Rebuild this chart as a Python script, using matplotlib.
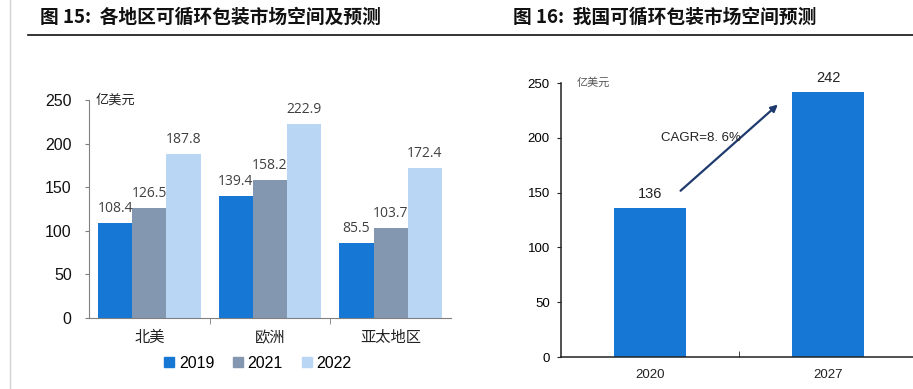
import matplotlib
matplotlib.use("Agg")
import matplotlib.pyplot as plt
from matplotlib.lines import Line2D
from matplotlib.patches import Patch
import numpy as np

plt.rcParams['font.family'] = ['Noto Sans CJK SC', 'DejaVu Sans']

# ---- data ----
regions = ["北美", "欧洲", "亚太地区"]
years_left = ["2019", "2021", "2022"]
v2019 = [108.4, 139.4, 85.5]
v2021 = [126.5, 158.2, 103.7]
v2022 = [187.8, 222.9, 172.4]
left_yticks = [0, 50, 100, 150, 200, 250]

years_right = ["2020", "2027"]
china_values = [136, 242]
right_yticks = [0, 50, 100, 150, 200, 250]
cagr_text = "CAGR=8. 6%"
unit = "亿美元"
title_left = "图 15:  各地区可循环包装市场空间及预测"
title_right = "图 16:  我国可循环包装市场空间预测"

colors_left = ["#1777d5", "#8497b0", "#b9d6f5"]
color_right = "#1777d5"

W, H = 913, 389
fig = plt.figure(figsize=(W / 100, H / 100), dpi=100)

def fx(px):
    return px / W

def fy(py):
    return 1 - py / H

# ---- titles & decorations ----
fig.text(fx(40), fy(17), title_left, fontsize=13.5, fontweight='bold', va='center', ha='left', color='#111111')
fig.text(fx(513), fy(17), title_right, fontsize=13.5, fontweight='bold', va='center', ha='left', color='#111111')
fig.add_artist(Line2D([fx(28), 1.0], [fy(35), fy(35)], color='#111111', lw=1.2, transform=fig.transFigure))
fig.add_artist(Line2D([fx(9.5), fx(9.5)], [0, 1], color='#d4d4d4', lw=1.0, transform=fig.transFigure))

# ---- left chart ----
axL = fig.add_axes([fx(89), fy(318), fx(451) - fx(89), fy(100) - fy(318)])
x = np.arange(len(regions))
bw = 0.283
series = [v2019, v2021, v2022]
for i, (vals, c, lab) in enumerate(zip(series, colors_left, years_left)):
    pos = x + (i - 1) * bw
    axL.bar(pos, vals, width=bw, color=c, label=lab, zorder=2)
    for p, v in zip(pos, vals):
        axL.text(p, v + 8, f"{v:.1f}", ha='center', va='bottom', fontsize=10,
                 color='#404040', family=['Open Sans', 'DejaVu Sans'])
axL.set_xlim(-0.5, len(regions) - 0.5)
axL.set_ylim(0, 250)
axL.set_yticks(left_yticks)
axL.set_yticklabels([str(t) for t in left_yticks], family=['Liberation Sans', 'DejaVu Sans'], fontsize=11.5)
axL.set_xticks(x)
axL.set_xticklabels(regions, fontsize=11, color='#222222')
axL.tick_params(axis='x', which='major', length=0, pad=8)
axL.set_xticks([0.5, 1.5], minor=True)
axL.tick_params(axis='x', which='minor', length=4, direction='out', color='#808080')
axL.tick_params(axis='y', length=3, color='#808080', pad=9.5, labelcolor='#111111')
for s in ['top', 'right']:
    axL.spines[s].set_visible(False)
for s in ['left', 'bottom']:
    axL.spines[s].set_color('#808080')
axL.text(0.018, 250, unit, transform=axL.get_yaxis_transform(), fontsize=9.5, va='center', ha='left', color='#222222')
fig.legend(handles=[Patch(color=c, label=l) for c, l in zip(colors_left, years_left)],
           loc='center', bbox_to_anchor=(fx(258), fy(363)), ncol=3, frameon=False,
           prop={'family': ['Liberation Sans', 'DejaVu Sans'], 'size': 11.5},
           handlelength=0.6, handleheight=0.6, handletextpad=0.3, columnspacing=1.2)

# ---- right chart ----
axR = fig.add_axes([fx(561), fy(357), fx(917) - fx(561), fy(83) - fy(357)])
xr = np.arange(len(years_right))
axR.bar(xr, china_values, width=0.4, color=color_right, zorder=2)
for p, v in zip(xr, china_values):
    axR.text(p, v + 6, f"{v}", ha='center', va='bottom', fontsize=10.5,
             color='#222222', family=['Liberation Sans', 'DejaVu Sans'])
axR.set_xlim(-0.5, 1.5)
axR.set_ylim(0, 250)
axR.set_yticks(right_yticks)
axR.set_yticklabels([str(t) for t in right_yticks], family=['Liberation Sans', 'DejaVu Sans'], fontsize=9.5)
axR.set_xticks(xr)
axR.set_xticklabels(years_right, family=['Liberation Sans', 'DejaVu Sans'], fontsize=9.5, color='#222222')
axR.tick_params(axis='x', which='major', length=0, pad=9)
axR.set_xticks([0.5], minor=True)
axR.tick_params(axis='x', which='minor', length=4, direction='in', color='#222222')
axR.tick_params(axis='y', length=3, color='#222222', pad=5)
for s in ['top', 'right']:
    axR.spines[s].set_visible(False)
for s in ['left', 'bottom']:
    axR.spines[s].set_color('#222222')
    axR.spines[s].set_linewidth(1.1)
axR.text(0.045, 250, unit, transform=axR.get_yaxis_transform(), fontsize=8, va='center', ha='left', color='#555555')
axR.annotate("", xy=(0.73, 232), xytext=(0.16, 150),
             arrowprops=dict(arrowstyle='-|>', color='#1f3b6e', lw=1.6, mutation_scale=10))
axR.text(0.06, 200, cagr_text, fontsize=9.5, ha='left', va='center', color='#222222',
         family=['Liberation Sans', 'DejaVu Sans'])

fig.savefig("out.png", dpi=100)
